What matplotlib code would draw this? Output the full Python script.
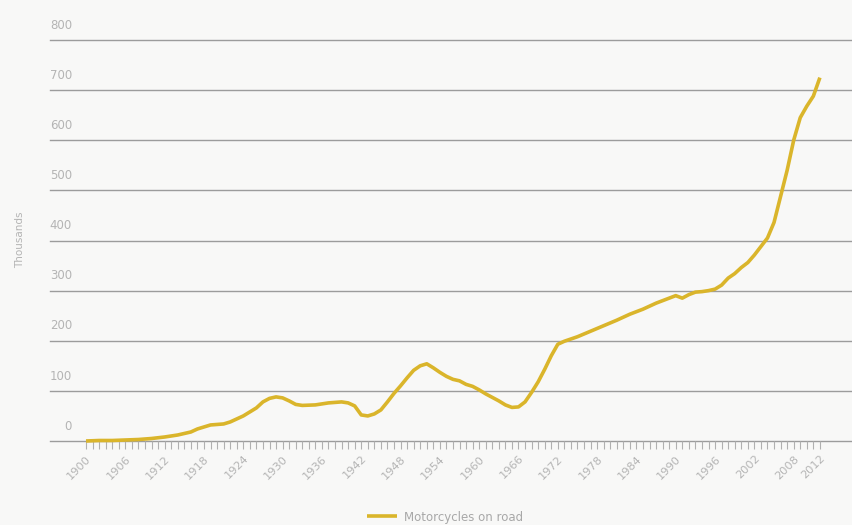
import numpy as np
import matplotlib
matplotlib.use('Agg')
import matplotlib.pyplot as plt

# motorcycles on road, thousands
years = [1900, 1902, 1904, 1906, 1908, 1910, 1912, 1914, 1916, 1917, 1919, 1921,
         1922, 1924, 1925, 1926, 1927, 1928, 1929, 1930, 1931, 1932, 1933, 1935,
         1937, 1939, 1940, 1941, 1942, 1943, 1944, 1945, 1946, 1947, 1948, 1949,
         1950, 1951, 1952, 1953, 1954, 1955, 1956, 1957, 1958, 1959, 1960, 1961,
         1962, 1963, 1964, 1965, 1966, 1967, 1968, 1969, 1970, 1971, 1972, 1973,
         1975, 1977, 1979, 1981, 1983, 1985, 1987, 1989, 1990, 1991, 1992, 1993,
         1994, 1995, 1996, 1997, 1998, 1999, 2000, 2001, 2002, 2003, 2004, 2005,
         2006, 2007, 2008, 2009, 2010, 2011, 2012]
values = [0, 1, 1, 2, 3, 5, 8, 12, 18, 24, 32, 34,
          38, 50, 58, 66, 78, 85, 88, 86, 80, 73, 71, 72,
          76, 78, 76, 70, 52, 50, 54, 62, 78, 95, 110, 126,
          141, 150, 154, 146, 137, 129, 123, 120, 113, 109, 102, 94,
          87, 80, 72, 67, 68, 78, 97, 118, 143, 170, 193, 199,
          208, 219, 230, 241, 253, 263, 275, 285, 290, 285, 292, 297,
          298, 300, 303, 311, 325, 334, 346, 356, 371, 388, 405, 436,
          488, 540, 600, 645, 668, 688, 725]

label_years = [1900, 1906, 1912, 1918, 1924, 1930, 1936, 1942, 1948, 1954,
               1960, 1966, 1972, 1978, 1984, 1990, 1996, 2002, 2008, 2012]
y_ticks = [0, 100, 200, 300, 400, 500, 600, 700, 800]

bg = '#f8f8f7'
line_color = '#dab52b'
text_color = '#b4b4b4'

fig = plt.figure(figsize=(8.52, 5.25), dpi=100, facecolor=bg)
ax = fig.add_axes([50 / 852, 1 - 441 / 525, 802 / 852, 401 / 525])
ax.set_facecolor(bg)

for v in y_ticks:
    ax.axhline(v, color='#9c9c9c', lw=1, zorder=1, clip_on=False)
    ax.annotate(str(v), xy=(22 / 802, v), xycoords=('axes fraction', 'data'),
                xytext=(0, 6), textcoords='offset points',
                ha='right', va='bottom', fontsize=8.5, color=text_color)

ax.plot(years, values, color=line_color, lw=2.6, zorder=3,
        solid_capstyle='butt', clip_on=False, label='Motorcycles on road')

ax.set_xlim(1894.5, 2016.9)
ax.set_ylim(0, 800)
for s in ax.spines.values():
    s.set_visible(False)

all_years = np.arange(1900, 2013)
ax.set_xticks(all_years)
ax.set_xticklabels([str(y) if y in label_years else '' for y in all_years],
                   rotation=45, ha='right', rotation_mode='anchor',
                   fontsize=8.2, color=text_color)
ax.tick_params(axis='x', length=6, width=0.8, color='#b0b0b0', pad=3)
ax.set_yticks([])

fig.text(20 / 852, 1 - 240 / 525, 'Thousands', rotation=90, ha='center',
         va='center', fontsize=7.5, color=text_color)

fig.legend(loc='center', bbox_to_anchor=(445 / 852, 8 / 525), frameon=False,
           fontsize=8.5, labelcolor='#a8a8a8', handlelength=2.6,
           handletextpad=0.6)

fig.savefig('out.png', dpi=100, facecolor=bg)
